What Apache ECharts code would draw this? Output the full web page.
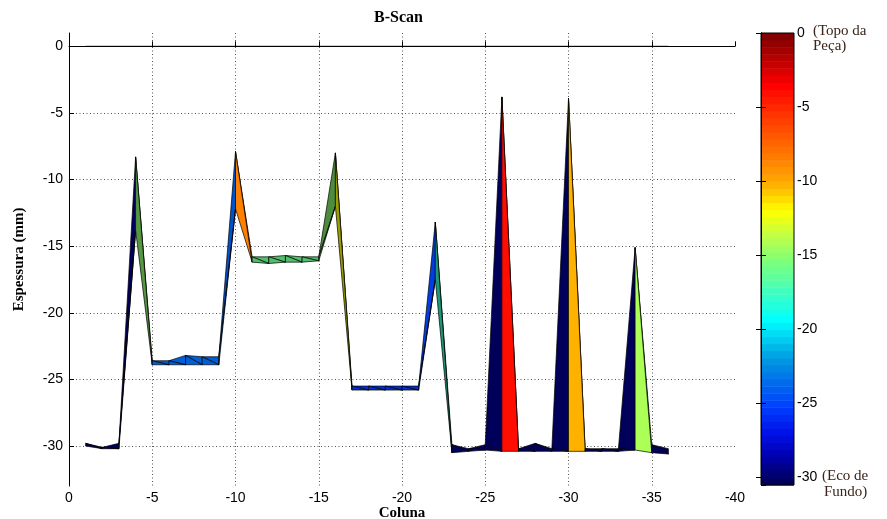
<!DOCTYPE html>
<html>
<head>
<meta charset="utf-8">
<script src="https://cdn.jsdelivr.net/npm/echarts@6/dist/echarts.min.js"></script>
<style>
html, body { margin: 0; padding: 0; background: #fff; }
#chart { width: 887px; height: 519px; }
</style>
</head>
<body>
<div id="chart"></div>
<script>
// colunas do B-Scan (eixo x invertido)
const colunas = [-1, -2, -3, -4, -5, -6, -7, -8, -9, -10, -11, -12, -13, -14, -15, -16, -17, -18,
  -19, -20, -21, -22, -23, -24, -25, -26, -27, -28, -29, -30, -31, -32, -33, -34, -35, -36];
// linha do topo da peça
const topoPeca = [0, 0, 0, 0, 0, 0, 0, 0, 0, 0, 0, 0, 0, 0, 0, 0, 0, 0,
  0, 0, 0, 0, 0, 0, 0, 0, 0, 0, 0, 0, 0, 0, 0, 0, 0, 0];
// as duas linhas da superficie (mm)
const camadaSup = [-29.8, -30.1, -29.8, -8.3, -23.6, -23.6, -23.2, -23.3, -23.3, -7.9, -15.8, -15.8,
  -15.7, -15.8, -15.8, -8.0, -25.5, -25.5, -25.5, -25.5, -25.5, -13.2, -29.9, -30.2,
  -29.9, -3.8, -30.2, -29.8, -30.2, -3.9, -30.2, -30.2, -30.2, -15.1, -29.9, -30.2];
const camadaInf = [-30.0, -30.2, -30.2, -13.8, -23.9, -23.9, -23.9, -23.9, -23.9, -12.2, -16.2, -16.3,
  -16.2, -16.2, -16.1, -12.0, -25.8, -25.8, -25.8, -25.8, -25.8, -17.5, -30.5, -30.4,
  -30.3, -30.4, -30.4, -30.4, -30.4, -30.4, -30.4, -30.4, -30.4, -30.3, -30.5, -30.6];
// valor de cor de cada face (dois triangulos por segmento)
const corSup = [-30.3, -30.3, -30.3, -8.5, -23.7, -23.7, -23.7, -23.7, -24, -8.5, -16, -16, -16, -16,
  -15, -12, -25.5, -25.5, -25.5, -25.5, -25, -18, -30.3, -30.3, -30.3, -4, -30.3, -30.3,
  -30.3, -4, -30.3, -30.3, -30.3, -14.2, -30.3];
const corInf = [-30.3, -30.3, -30.3, -15, -23.7, -23.7, -23.7, -23.7, -24, -8.5, -16, -16, -16, -16,
  -15, -12, -25.5, -25.5, -25.5, -25.5, -25, -18, -30.3, -30.3, -30.3, -4, -30.3, -30.3,
  -30.3, -10.2, -30.3, -30.3, -30.3, -14.2, -30.3];
// iluminacao das faces
const sombraSup = [1, 1, 1, 1, .9, .9, .9, .9, .85, 1, .75, .75, .75, .75, .55, .62, .85, .85, .85, .85,
  .9, .6, 1, 1, 1, 1, 1, 1, 1, 1, 1, 1, 1, 1, 1];
const sombraInf = [1, 1, 1, .6, .9, .9, .9, .9, .85, 1, .75, .75, .75, .75, .55, .62, .85, .85, .85, .85,
  .9, .6, 1, 1, 1, 1, 1, 1, 1, 1, 1, 1, 1, 1, 1];

const escala = [
  [0, '#7a0000'], [-1.5, '#b00000'], [-3.5, '#ff0000'], [-5, '#ff2800'], [-7, '#ff5a00'],
  [-8.5, '#ff8000'], [-10, '#ffa800'], [-12, '#ffff00'], [-13.5, '#c8ff40'], [-15.3, '#80ff78'],
  [-17.5, '#40ffc0'], [-19.4, '#00ffff'], [-22, '#0098e0'], [-24, '#0060f0'], [-25.2, '#0040ff'],
  [-27, '#0010e8'], [-28.5, '#0000b0'], [-30.5, '#000050']
];
const CMIN = -30.5, CMAX = 0;

function hexRgb(h) {
  return [parseInt(h.slice(1, 3), 16), parseInt(h.slice(3, 5), 16), parseInt(h.slice(5, 7), 16)];
}
function cor(v, s) {
  s = s == null ? 1 : s;
  v = Math.max(CMIN, Math.min(CMAX, v));
  let rgb = hexRgb(escala[escala.length - 1][1]);
  for (let i = 0; i < escala.length - 1; i++) {
    const a = escala[i], b = escala[i + 1];
    if (v <= a[0] && v >= b[0]) {
      const t = (a[0] - v) / (a[0] - b[0]);
      const ca = hexRgb(a[1]), cb = hexRgb(b[1]);
      rgb = [0, 1, 2].map(k => ca[k] + (cb[k] - ca[k]) * t);
      break;
    }
  }
  return 'rgb(' + rgb.map(c => Math.round(c * s)).join(',') + ')';
}

const faces = [];
for (let i = 0; i < colunas.length - 1; i++) {
  faces.push([colunas[i], colunas[i + 1], camadaSup[i], camadaSup[i + 1], camadaInf[i], camadaInf[i + 1],
    corSup[i], corInf[i], sombraSup[i], sombraInf[i]]);
}

const fonteNum = 'Liberation Sans, Arial, sans-serif';
const fonteSerif = 'Liberation Serif, Times New Roman, serif';
const grade = { show: true, lineStyle: { color: '#555', type: [1, 2.5], width: 1 } };

const chart = echarts.init(document.getElementById('chart'), null, { renderer: 'canvas' });

chart.setOption({
  animation: false,
  backgroundColor: '#fff',
  grid: [
    { left: 69, right: 152, top: 33, bottom: 33, outerBoundsMode: 'none', containLabel: false },
    { left: 761, right: 93, top: 33, bottom: 34, outerBoundsMode: 'none', containLabel: false }
  ],
  xAxis: [
    {
      type: 'value', gridIndex: 0, min: -40, max: 0, interval: 5, inverse: true,
      axisLine: { lineStyle: { color: '#000', width: 1 } },
      axisTick: { inside: true, length: 5, lineStyle: { color: '#000' } },
      axisLabel: { color: '#000', fontSize: 14, fontFamily: fonteNum, margin: 5 },
      splitLine: Object.assign({ showMinLine: false }, grade),
      name: 'Coluna', nameLocation: 'middle', nameGap: 20, nameMoveOverlap: false,
      nameTextStyle: { color: '#000', fontSize: 15, fontWeight: 'bold', fontFamily: fonteSerif }
    },
    { type: 'value', gridIndex: 1, min: 0, max: 1, show: false }
  ],
  yAxis: [
    {
      type: 'value', gridIndex: 0, min: -33, max: 1, minInterval: 5, maxInterval: 5,
      axisLine: { show: true, lineStyle: { color: '#000', width: 1 } },
      axisTick: { show: true, inside: true, length: 5, lineStyle: { color: '#000' } },
      axisLabel: { color: '#000', fontSize: 14, fontFamily: fonteNum, margin: 6, showMinLabel: false, showMaxLabel: false },
      splitLine: Object.assign({ showMinLine: false, showMaxLine: false }, grade),
      name: 'Espessura (mm)', nameLocation: 'middle', nameGap: 42, nameRotate: 90, nameMoveOverlap: false,
      nameTextStyle: { color: '#000', fontSize: 15, fontWeight: 'bold', fontFamily: fonteSerif }
    },
    {
      type: 'value', gridIndex: 1, position: 'right', min: CMIN, max: CMAX, minInterval: 5, maxInterval: 5, z: 10,
      axisLine: { show: true, lineStyle: { color: '#000', width: 1 } },
      axisTick: { show: true, inside: true, length: 5, lineStyle: { color: '#000' } },
      axisLabel: { color: '#000', fontSize: 14, fontFamily: fonteNum, margin: 3, showMinLabel: false },
      splitLine: { show: false }
    },
    {
      type: 'value', gridIndex: 1, position: 'left', min: CMIN, max: CMAX, minInterval: 5, maxInterval: 5, z: 10,
      axisLine: { show: true, lineStyle: { color: '#000', width: 1 } },
      axisTick: { show: true, inside: true, length: 5, lineStyle: { color: '#000' } },
      axisLabel: { show: false },
      splitLine: { show: false }
    }
  ],
  graphic: [
    { type: 'text', left: 402 - 28, top: 10, style: { text: 'B-Scan', fill: '#000', font: 'bold 16px ' + fonteSerif } },
    { type: 'text', x: 813, y: 24, style: { text: '(Topo da', fill: '#3a2418', font: '15px ' + fonteSerif } },
    { type: 'text', x: 813, y: 39, style: { text: 'Peça)', fill: '#3a2418', font: '15px ' + fonteSerif } },
    { type: 'text', x: 822, y: 469, style: { text: '(Eco de', fill: '#3a2418', font: '15px ' + fonteSerif } },
    { type: 'text', x: 824, y: 485, style: { text: 'Fundo)', fill: '#3a2418', font: '15px ' + fonteSerif } }
  ],
  series: [
    {
      type: 'line', xAxisIndex: 0, yAxisIndex: 0, symbol: 'none', silent: true, z: 1,
      lineStyle: { color: '#000', width: 1 },
      data: colunas.map((c, i) => [c, topoPeca[i]])
    },
    {
      type: 'custom', xAxisIndex: 0, yAxisIndex: 0, silent: true, z: 3,
      encode: { x: [0, 1], y: [2, 3, 4, 5] },
      data: faces,
      renderItem: function (params, api) {
        const x0 = api.value(0), x1 = api.value(1);
        const a0 = api.coord([x0, api.value(2)]), a1 = api.coord([x1, api.value(3)]);
        const b0 = api.coord([x0, api.value(4)]), b1 = api.coord([x1, api.value(5)]);
        return {
          type: 'group',
          children: [
            { type: 'polygon', shape: { points: [a0, a1, b1] },
              style: { fill: cor(api.value(6), api.value(8)), stroke: '#000', lineWidth: 0.7 } },
            { type: 'polygon', shape: { points: [a0, b1, b0] },
              style: { fill: cor(api.value(7), api.value(9)), stroke: '#000', lineWidth: 0.7 } }
          ]
        };
      }
    },
    {
      type: 'custom', xAxisIndex: 1, yAxisIndex: 1, silent: true, z: 2,
      data: [[0, 0]],
      renderItem: function (params, api) {
        const n = 64, passo = (CMAX - CMIN) / n, kids = [];
        for (let k = 0; k < n; k++) {
          const lo = CMIN + k * passo, hi = lo + passo;
          const p0 = api.coord([0, hi]), p1 = api.coord([1, lo]);
          kids.push({ type: 'rect', shape: { x: p0[0], y: p0[1], width: p1[0] - p0[0], height: p1[1] - p0[1] + 0.5 },
            style: { fill: cor((lo + hi) / 2) } });
        }
        const t = api.coord([0, CMAX]), b = api.coord([1, CMIN]);
        kids.push({ type: 'rect', shape: { x: t[0], y: t[1], width: b[0] - t[0], height: b[1] - t[1] },
          style: { fill: 'none', stroke: '#000', lineWidth: 1 } });
        return { type: 'group', children: kids };
      }
    }
  ]
});
</script>
</body>
</html>
